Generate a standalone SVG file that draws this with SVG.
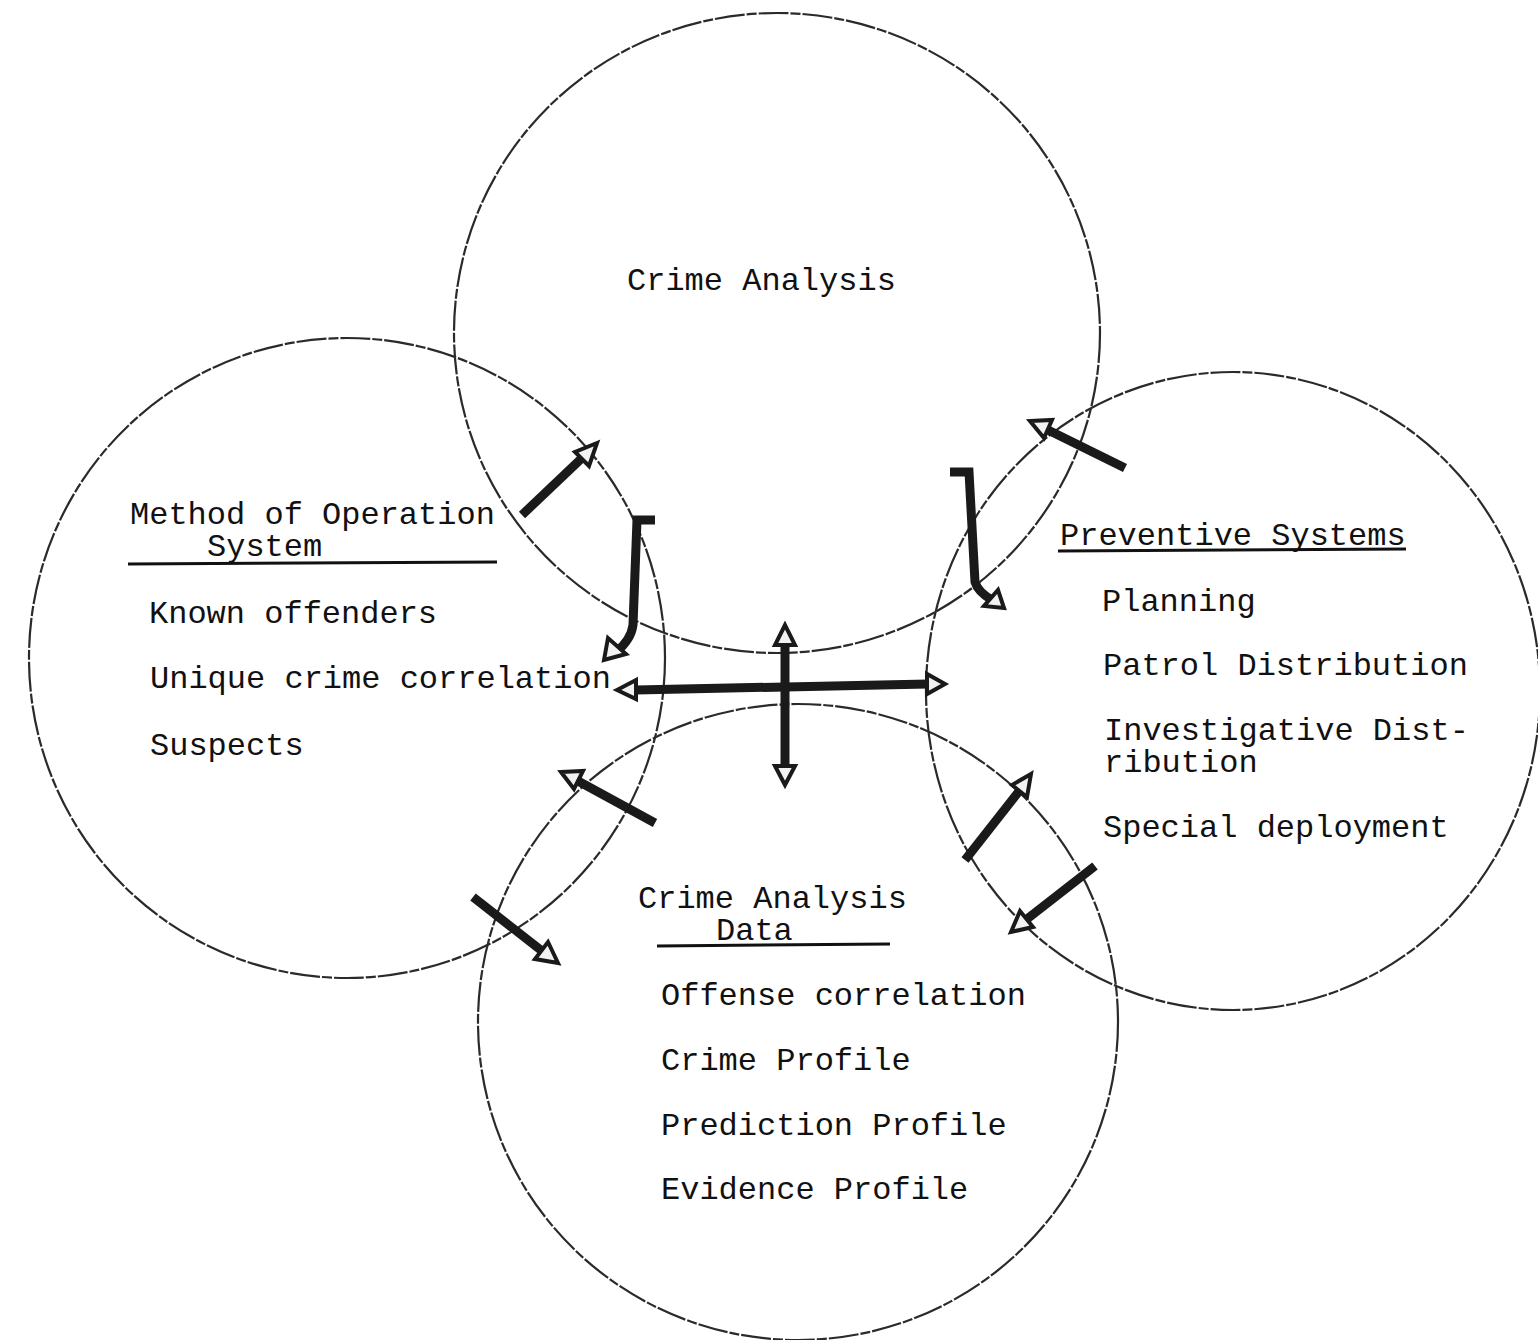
<svg xmlns="http://www.w3.org/2000/svg" width="1538" height="1340" viewBox="0 0 1538 1340">
<style>
.ring{fill:none;stroke:#2a2a2a;stroke-width:2.2;stroke-dasharray:30 2 10 2}
.t{font-family:"Liberation Mono","DejaVu Sans Mono",monospace;font-size:32px;fill:#111}
.ul{stroke:#111;stroke-width:3}
.sh{fill:none;stroke:#1a1a1a;stroke-width:9;stroke-linecap:butt;stroke-linejoin:miter}
.hd{fill:#f2f2f2;stroke:#1a1a1a;stroke-width:4;stroke-linejoin:miter}
</style>
<rect width="1538" height="1340" fill="#fff"/>
<g id="node-crime-analysis">
<ellipse class="ring" cx="777" cy="333" rx="323" ry="320"/>
<text class="t" x="627" y="290">Crime Analysis</text>
</g>
<g id="node-method-of-operation">
<ellipse class="ring" cx="347" cy="658" rx="318" ry="320"/>
<text class="t" x="130" y="524">Method of Operation</text>
<text class="t" x="207" y="556">System</text>
<line class="ul" x1="128" y1="564" x2="497" y2="562"/>
<text class="t" x="149" y="623">Known offenders</text>
<text class="t" x="150" y="688">Unique crime correlation</text>
<text class="t" x="150" y="755">Suspects</text>
</g>
<g id="node-preventive-systems">
<ellipse class="ring" cx="1233" cy="691" rx="307" ry="319"/>
<text class="t" x="1060" y="545">Preventive Systems</text>
<line class="ul" x1="1058" y1="551" x2="1406" y2="549"/>
<text class="t" x="1102" y="611">Planning</text>
<text class="t" x="1103" y="675">Patrol Distribution</text>
<text class="t" x="1104" y="740">Investigative Dist-</text>
<text class="t" x="1104" y="772">ribution</text>
<text class="t" x="1103" y="837">Special deployment</text>
</g>
<g id="node-crime-analysis-data">
<ellipse class="ring" cx="798" cy="1022" rx="320" ry="318"/>
<text class="t" x="638" y="908">Crime Analysis</text>
<text class="t" x="716" y="940">Data</text>
<line class="ul" x1="657" y1="946" x2="890" y2="944"/>
<text class="t" x="661" y="1005">Offense correlation</text>
<text class="t" x="661" y="1070">Crime Profile</text>
<text class="t" x="661" y="1135">Prediction Profile</text>
<text class="t" x="661" y="1199">Evidence Profile</text>
</g>
<g id="connectors">
<path class="sh" d="M522 515 L582 458"/>
<polygon class="hd" points="597,443 575,452 589,466"/>
<path class="sh" d="M655 520 L637 520 L633 625 Q631 640 616 652"/>
<polygon class="hd" points="604,660 608,638 626,654"/>
<path class="sh" d="M1125 468 L1048 430"/>
<polygon class="hd" points="1030,421 1052,420 1044,438"/>
<path class="sh" d="M950 472 L969 472 L975 582 Q978 592 992 600"/>
<polygon class="hd" points="1004,608 984,606 998,590"/>
<path class="sh" d="M636 690 L928 684"/>
<polygon class="hd" points="617,690 636,680 636,699"/>
<polygon class="hd" points="945,684 927,674 927,694"/>
<path class="sh" d="M785 645 L785 766"/>
<polygon class="hd" points="785,625 775,645 795,645"/>
<polygon class="hd" points="785,785 775,766 795,766"/>
<path class="sh" d="M655 823 L578 781"/>
<polygon class="hd" points="561,772 583,771 574,789"/>
<path class="sh" d="M473 897 L542 951"/>
<polygon class="hd" points="558,963 535,959 548,942"/>
<path class="sh" d="M965 860 L1020 790"/>
<polygon class="hd" points="1031,774 1012,785 1027,797"/>
<path class="sh" d="M1095 866 L1027 919"/>
<polygon class="hd" points="1011,932 1020,911 1033,927"/>
</g>
</svg>
